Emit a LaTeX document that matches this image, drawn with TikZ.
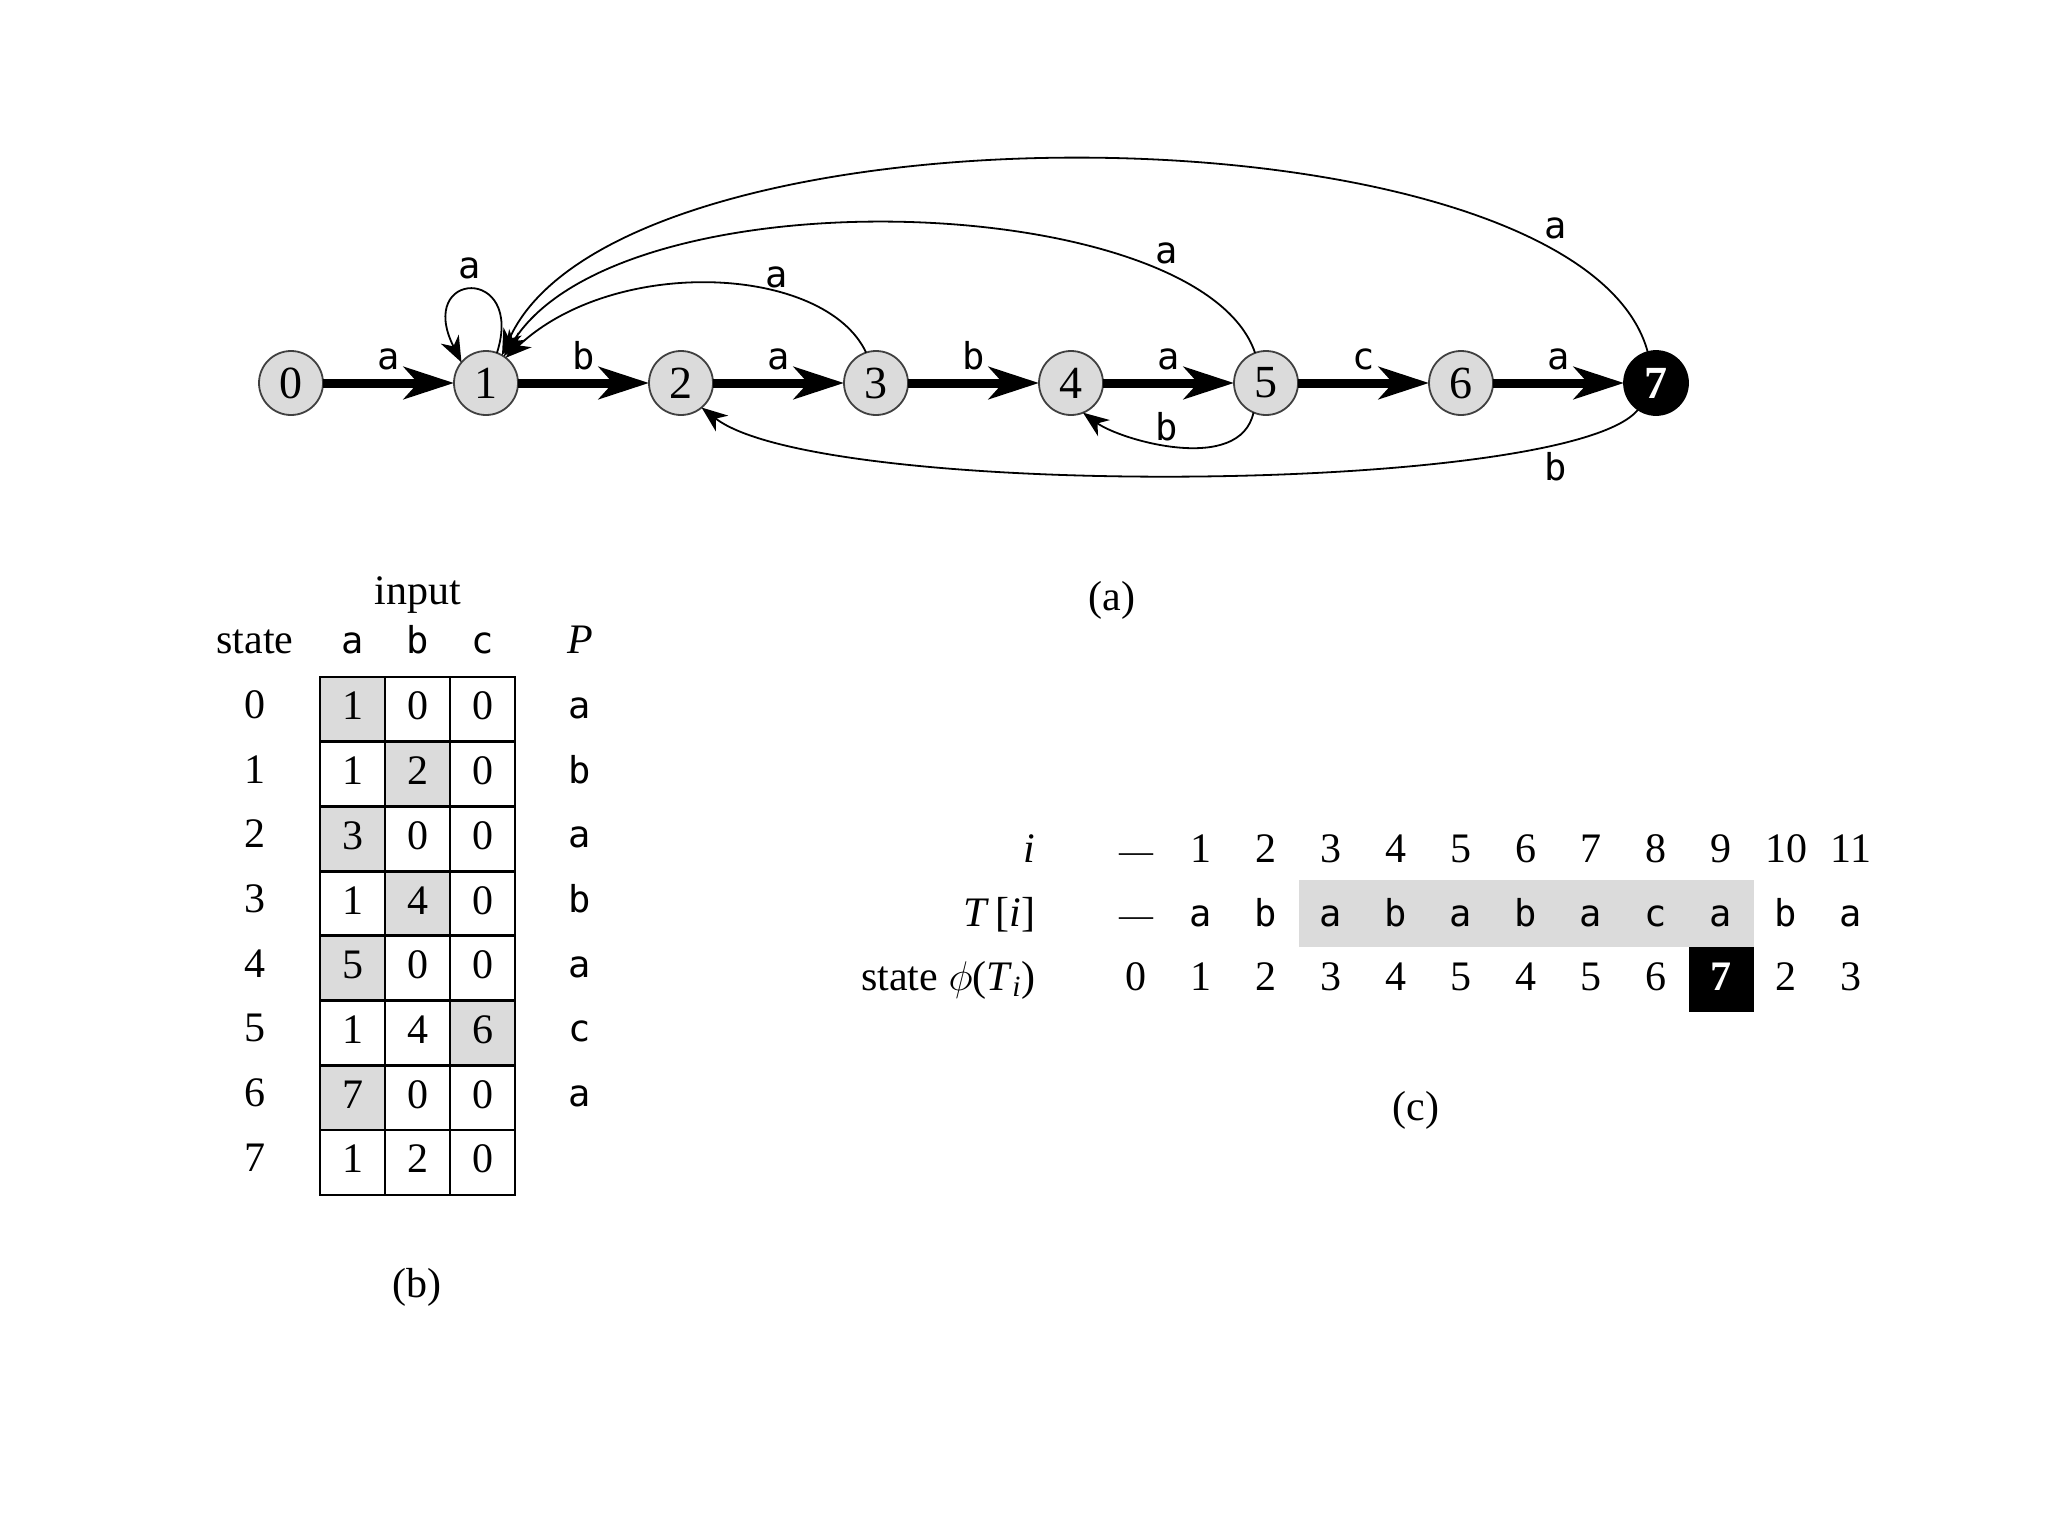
\documentclass[tikz,border=0pt]{standalone}
\usepackage{fontspec}
\setmainfont{Liberation Serif}
\newfontfamily\lett{DejaVu Sans Mono}
\usetikzlibrary{arrows.meta}
\newcommand\dashsym{{\fontsize{17}{17}\selectfont\textemdash}}
\begin{document}
\begin{tikzpicture}[x=0.5pt,y=0.5pt,
  fsm/.style={circle,draw=black!75,line width=0.9pt,fill=black!14,minimum size=32pt,inner sep=0pt,outer sep=0pt,font=\fontsize{23}{23}\selectfont},
  fin/.style={fsm,fill=black,draw=black,text=white,font=\fontsize{23}{23}\selectfont\bfseries},
  fwd/.style={line width=4.5pt,-{Stealth[length=25pt,width=16pt,inset=7pt]}},
  thinedge/.style={line width=0.9pt,-{Stealth[length=13pt,width=10pt,inset=4pt]}},
  lbl/.style={font=\lett\fontsize{18.5}{18.5}\selectfont,anchor=base,inner sep=0pt},
  num/.style={font=\fontsize{21}{21}\selectfont,anchor=base,inner sep=0pt},
  cell/.style={draw,line width=1.3pt,minimum size=32.5pt,inner sep=0pt,outer sep=0pt,text height=14.5pt,text depth=4pt,font=\fontsize{21}{21}\selectfont},
]
\useasboundingbox[fill=white] (0,0) rectangle (2048,-1536);

% ---------- (a) automaton ----------
\foreach \k in {0,...,6} \node[fsm] (n\k) at (291+195*\k,-383) {\k};
\node[fin] (n7) at (1656,-383) {7};

\draw[fwd] (n0) -- (n1);
\draw[fwd] (n1) -- (n2);
\draw[fwd] (n2) -- (n3);
\draw[fwd] (n3) -- (n4);
\draw[fwd] (n4) -- (n5);
\draw[fwd] (n5) -- (n6);
\draw[fwd] (n6) -- (n7);

\node[lbl] (l01) at (389,-369) {a};
\node[lbl] (l12) at (584,-369) {b};
\node[lbl] (l23) at (778.5,-369) {a};
\node[lbl] (l34) at (973.5,-369) {b};
\node[lbl] (l45) at (1168.5,-369) {a};
\node[lbl] (l56) at (1363.5,-369) {c};
\node[lbl] (l67) at (1558.5,-369) {a};

\draw[thinedge] (n1.70) .. controls (525,-265) and (415,-270) .. (n1.140);
\draw[thinedge] (n3.108) .. controls (825,-265) and (615,-255) .. (n1.52);
\draw[thinedge] (n5.110) .. controls (1200,-190) and (620,-170) .. (n1.56);
\draw[thinedge] (n7.105) .. controls (1580,-100) and (620,-90) .. (n1.60);
\draw[thinedge] (n5.-113) .. controls (1240,-475) and (1120,-440) .. (n4.-68);
\draw[thinedge] (n7.-124) .. controls (1570,-495) and (820,-500) .. (n2.-50);

\node[lbl] (l11) at (470,-278) {a};
\node[lbl] (l31) at (777,-287) {a};
\node[lbl] (l51) at (1167,-263) {a};
\node[lbl] (l71) at (1556,-238) {a};
\node[lbl] (l54) at (1167,-440) {b};
\node[lbl] (l72) at (1556,-480) {b};

\node[num,anchor=center] (capa) at (1112,-600) {(a)};

% ---------- (b) transition table ----------
\foreach \r/\c in {0/0,1/1,2/0,3/1,4/0,5/2,6/0}
  \fill[black!14] (320+65*\c,-677-64.7*\r) rectangle ++(65,-64.7);
\foreach \r/\va/\vb/\vc in {0/1/0/0,1/1/2/0,2/3/0/0,3/1/4/0,4/5/0/0,5/1/4/6,6/7/0/0,7/1/2/0}{
  \node[cell] (ta\r) at (352.5,-709.4-64.7*\r) {\va};
  \node[cell] (tb\r) at (417.5,-709.4-64.7*\r) {\vb};
  \node[cell] (tc\r) at (482.5,-709.4-64.7*\r) {\vc};
  \node[num] (s\r) at (255,-718.4-64.7*\r) {\r};
}
\foreach \r/\p in {0/a,1/b,2/a,3/b,4/a,5/c,6/a}
  \node[lbl] (p\r) at (580,-718.4-64.7*\r) {\p};

\node[num] (hinput) at (418,-604) {input};
\node[num] (hstate) at (255,-653) {state};
\node[lbl] (ha) at (352.5,-653) {a};
\node[lbl] (hb) at (417.5,-653) {b};
\node[lbl] (hc) at (482.5,-653) {c};
\node[num] (hP) at (580,-653) {\textit{P}};

\node[num,anchor=center] (capb) at (417,-1287) {(b)};

% ---------- (c) run on text ----------
\fill[black!14] (1298.5,-880) rectangle (1753.5,-947);
\fill[black] (1688.5,-947) rectangle (1753.5,-1012);

\node[num,anchor=base east] (ri) at (1036,-862) {\textit{i}};
\node[num,anchor=base east] (rt) at (1036,-926) {\textit{T}\,[\textit{i}]};
\node[num,anchor=base east] (rs) at (1036,-990) {state $\phi$(\textit{T}\textsubscript{\textit{i}})};

\node[num] (i0) at (1136,-862) {\dashsym};
\foreach \k in {1,...,11} \node[num] (i\k) at (1136+65*\k,-862) {\k};

\node[num] (t0) at (1136,-926) {\dashsym};
\foreach \v [count=\k] in {a,b,a,b,a,b,a,c,a,b,a}
  \node[lbl] (t\k) at (1136+65*\k,-926) {\v};

\foreach \k/\v in {0/0,1/1,2/2,3/3,4/4,5/5,6/4,7/5,8/6,10/2,11/3}
  \node[num] (q\k) at (1136+65*\k,-990) {\v};
\node[num,text=white,font=\fontsize{21}{21}\selectfont\bfseries] (q9) at (1721,-990) {7};

\node[num,anchor=center] (capc) at (1416,-1110) {(c)};
\end{tikzpicture}
\end{document}
